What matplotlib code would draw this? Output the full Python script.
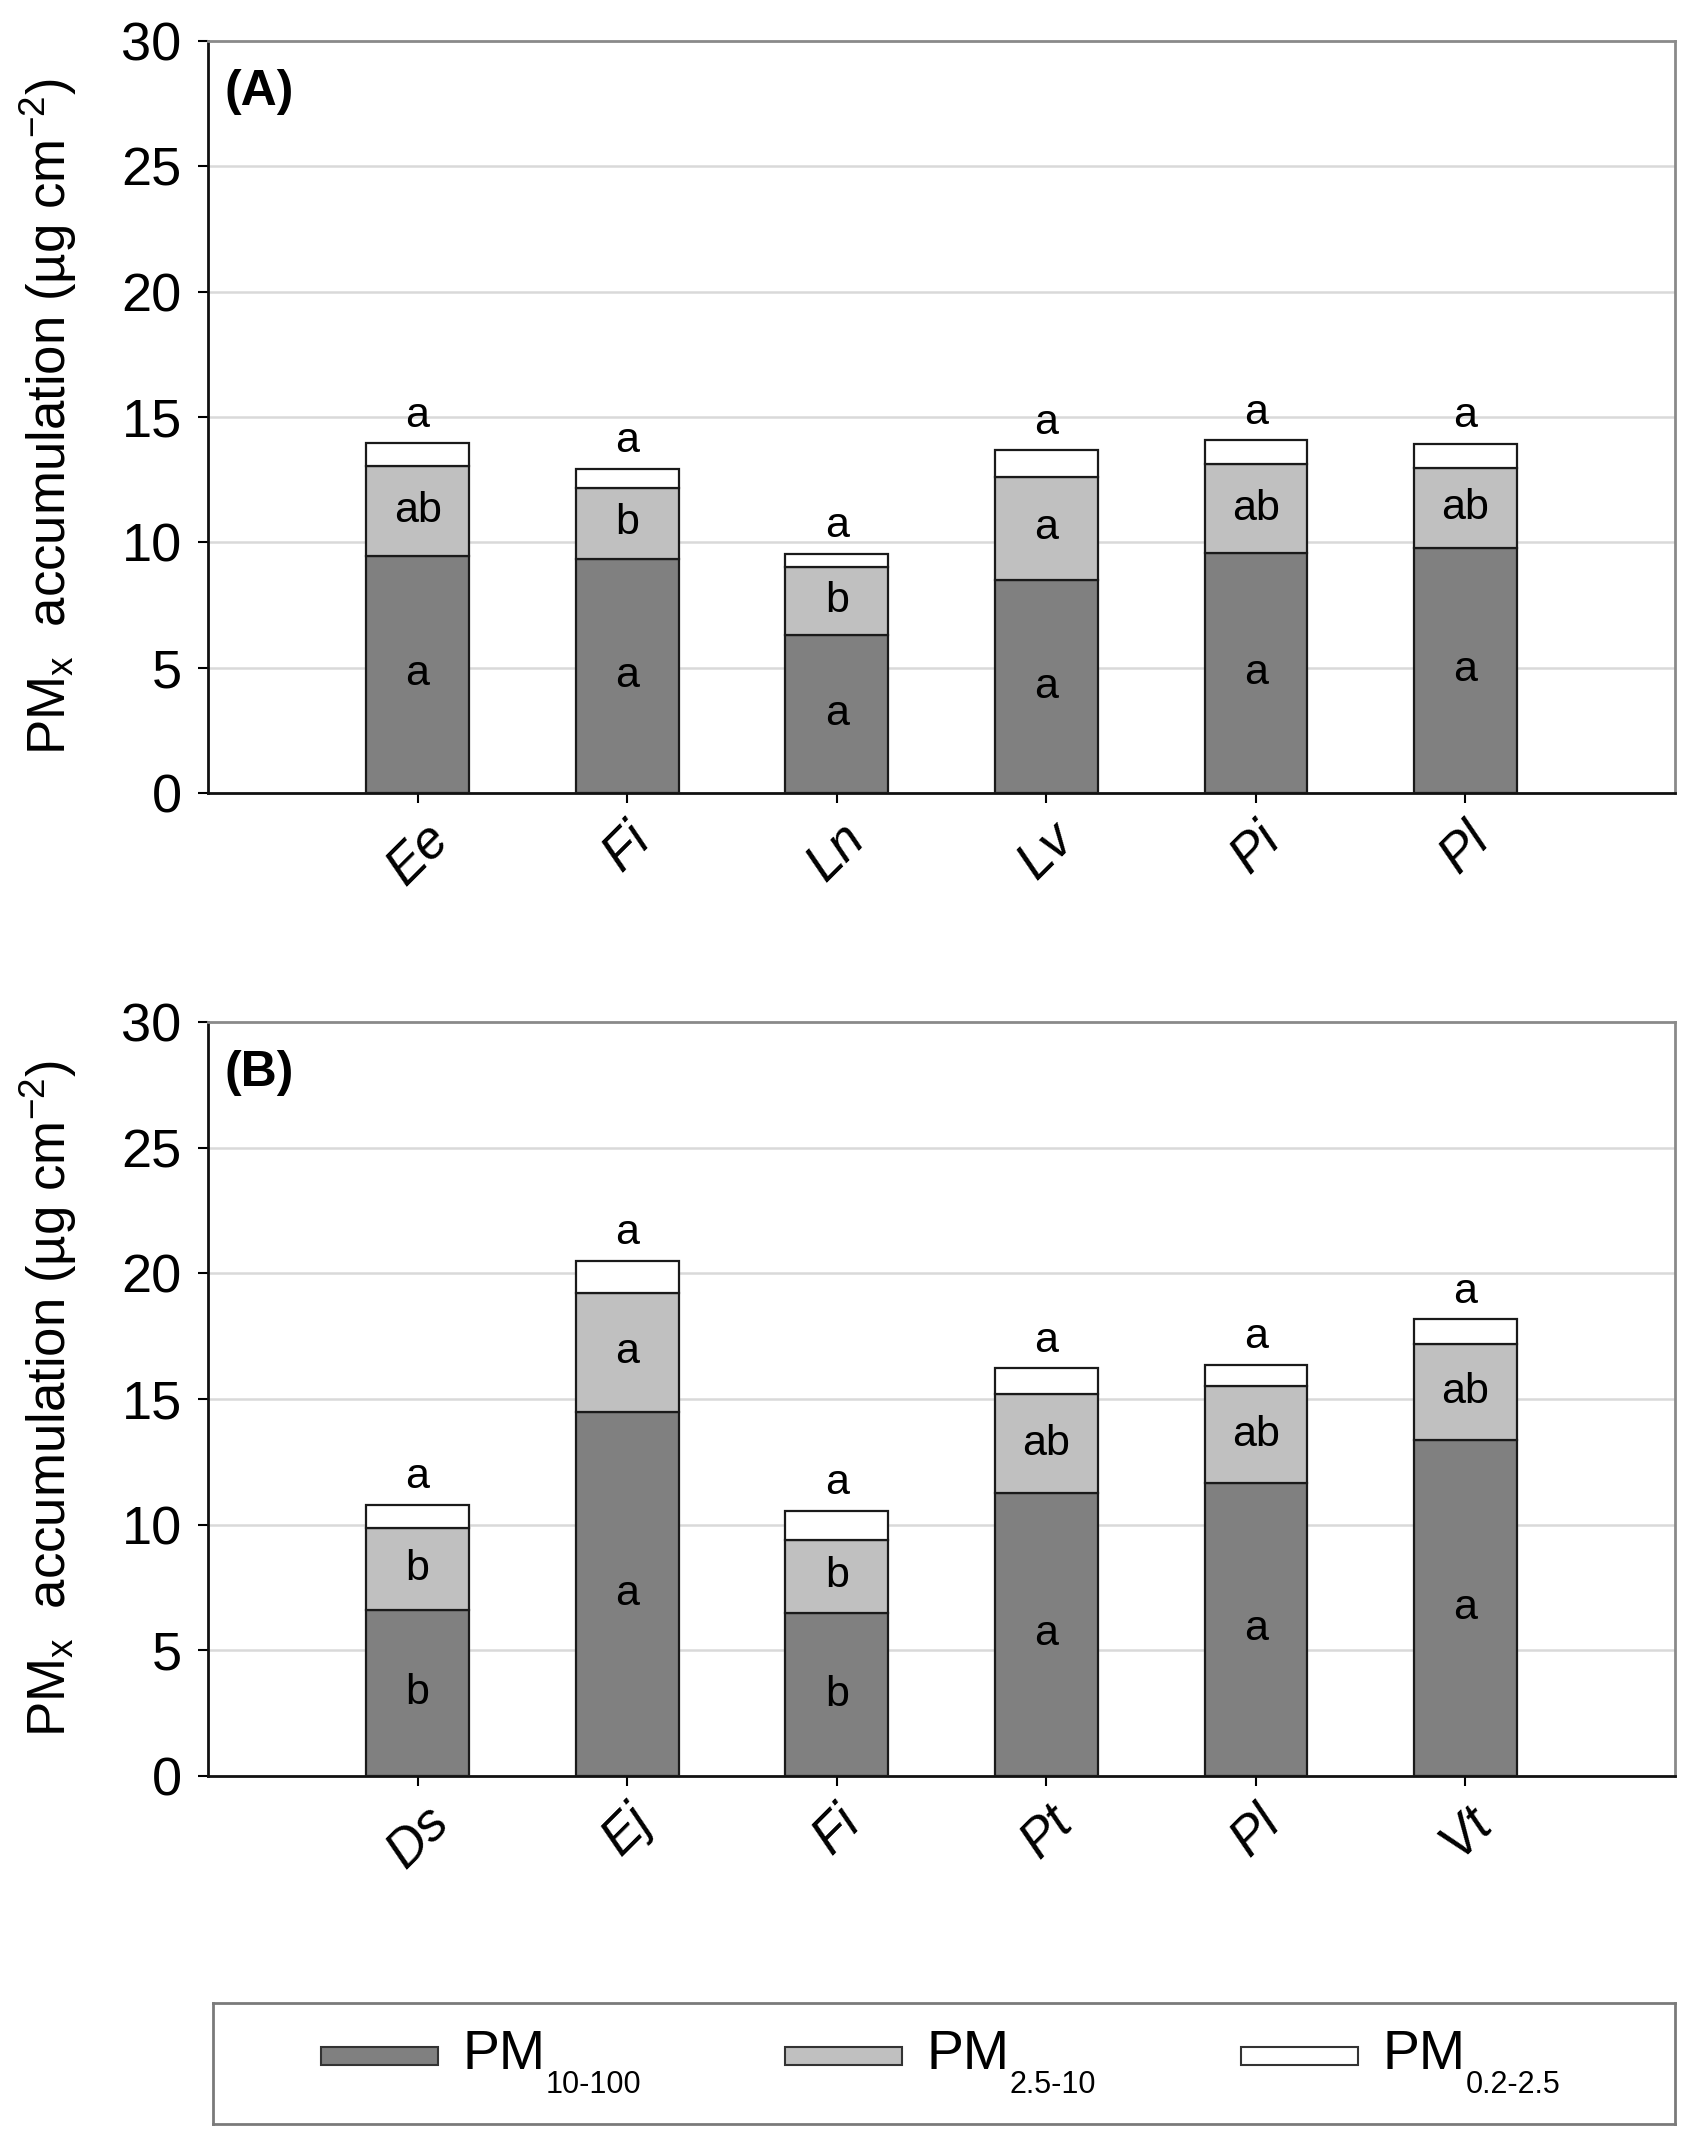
import matplotlib
matplotlib.use("Agg")
import matplotlib.pyplot as plt
from matplotlib.patches import Rectangle
import numpy as np

plt.rcParams['font.family'] = ['Liberation Sans', 'DejaVu Sans']
plt.rcParams['mathtext.fontset'] = 'custom'
plt.rcParams['mathtext.rm'] = 'Liberation Sans'
plt.rcParams['mathtext.it'] = 'Liberation Sans:italic'

# ---- data ----
cats_a = ["Ee", "Fi", "Ln", "Lv", "Pi", "Pl"]
pm10_100_a = [9.47, 9.35, 6.32, 8.49, 9.56, 9.79]
pm25_10_a = [3.58, 2.81, 2.71, 4.13, 3.56, 3.19]
pm02_25_a = [0.91, 0.78, 0.51, 1.05, 0.96, 0.96]
let10_a = ["a", "a", "a", "a", "a", "a"]
let25_a = ["ab", "b", "b", "a", "ab", "ab"]
let02_a = ["a", "a", "a", "a", "a", "a"]

cats_b = ["Ds", "Ej", "Fi", "Pt", "Pl", "Vt"]
pm10_100_b = [6.62, 14.50, 6.48, 11.28, 11.67, 13.38]
pm25_10_b = [3.24, 4.72, 2.93, 3.90, 3.83, 3.81]
pm02_25_b = [0.94, 1.28, 1.14, 1.05, 0.87, 0.98]
let10_b = ["b", "a", "b", "a", "a", "a"]
let25_b = ["b", "a", "b", "ab", "ab", "ab"]
let02_b = ["a", "a", "a", "a", "a", "a"]

yticks = [0, 5, 10, 15, 20, 25, 30]
series_colors = ["#808080", "#c0c0c0", "#ffffff"]
legend_main = ["PM", "PM", "PM"]
legend_sub = ["10-100", "2.5-10", "0.2-2.5"]

fig = plt.figure(figsize=(17.01, 21.51), dpi=100)

def panel(rect, cats, s1, s2, s3, l1, l2, l3, tag):
    ax = fig.add_axes(rect)
    x = np.arange(1, len(cats) + 1)
    s1 = np.array(s1); s2 = np.array(s2); s3 = np.array(s3)
    w = 0.49
    ax.bar(x, s1, w, color=series_colors[0], edgecolor="#1a1a1a", linewidth=1.6, zorder=3)
    ax.bar(x, s2, w, bottom=s1, color=series_colors[1], edgecolor="#1a1a1a", linewidth=1.6, zorder=3)
    ax.bar(x, s3, w, bottom=s1 + s2, color=series_colors[2], edgecolor="#1a1a1a", linewidth=1.6, zorder=3)
    for i in range(len(cats)):
        ax.text(x[i], s1[i] / 2, l1[i], ha="center", va="center", fontsize=31, zorder=4)
        ax.text(x[i], s1[i] + s2[i] / 2, l2[i], ha="center", va="center", fontsize=31, zorder=4)
        ax.text(x[i], s1[i] + s2[i] + s3[i] + 0.3, l3[i], ha="center", va="bottom", fontsize=31, zorder=4)
    ax.set_xlim(0, len(cats) + 1)
    ax.set_ylim(0, 30)
    ax.set_yticks(yticks)
    ax.set_yticklabels([str(t) for t in yticks], fontsize=39)
    ax.set_xticks(x)
    ax.set_xticklabels(cats, fontsize=38, style="italic", rotation=45, ha="center")
    ax.tick_params(axis="y", length=7, width=1.5, pad=12, direction="out")
    ax.tick_params(axis="x", length=7, width=1.5, pad=8, direction="out")
    for yv in yticks[1:-1]:
        ax.axhline(yv, color="#d9d9d9", linewidth=1.8, zorder=1)
    for side in ["left", "bottom"]:
        ax.spines[side].set_color("#111111")
        ax.spines[side].set_linewidth(2)
    for side in ["top", "right"]:
        ax.spines[side].set_color("#8a8a8a")
        ax.spines[side].set_linewidth(2)
    ax.set_ylabel(r"PM$_\mathregular{x}$  accumulation (µg cm$^{\mathregular{-2}}$)", fontsize=38)
    ax.yaxis.set_label_coords(-0.088, 0.5)
    ax.text(0.011, 0.932, tag, transform=ax.transAxes, fontsize=36, fontweight="bold",
            ha="left", va="center")
    return ax

panel([0.1223, 0.6313, 0.8624, 0.3496], cats_a, pm10_100_a, pm25_10_a, pm02_25_a,
      let10_a, let25_a, let02_a, "(A)")
panel([0.1223, 0.1743, 0.8624, 0.3506], cats_b, pm10_100_b, pm25_10_b, pm02_25_b,
      let10_b, let25_b, let02_b, "(B)")

# ---- legend box ----
lax = fig.add_axes([0.1252, 0.01255, 0.8595, 0.05625])
lax.set_xlim(0, 1)
lax.set_ylim(0, 1)
lax.set_xticks([]); lax.set_yticks([])
for s in lax.spines.values():
    s.set_color("#7a7a7a"); s.set_linewidth(2)
patch_x = [0.074, 0.391, 0.703]
for px, col, m, sub in zip(patch_x, series_colors, legend_main, legend_sub):
    lax.add_patch(Rectangle((px, 0.49), 0.08, 0.15, facecolor=col, edgecolor="#333333", linewidth=1.5))
    t = lax.text(px + 0.097, 0.57, m, fontsize=40, ha="left", va="center")
    lax.annotate(sub, xy=(1, 0), xycoords=t, xytext=(0, -3), textcoords="offset points",
                 fontsize=22, ha="left", va="center")

fig.savefig("out.png", dpi=100, facecolor="white")
